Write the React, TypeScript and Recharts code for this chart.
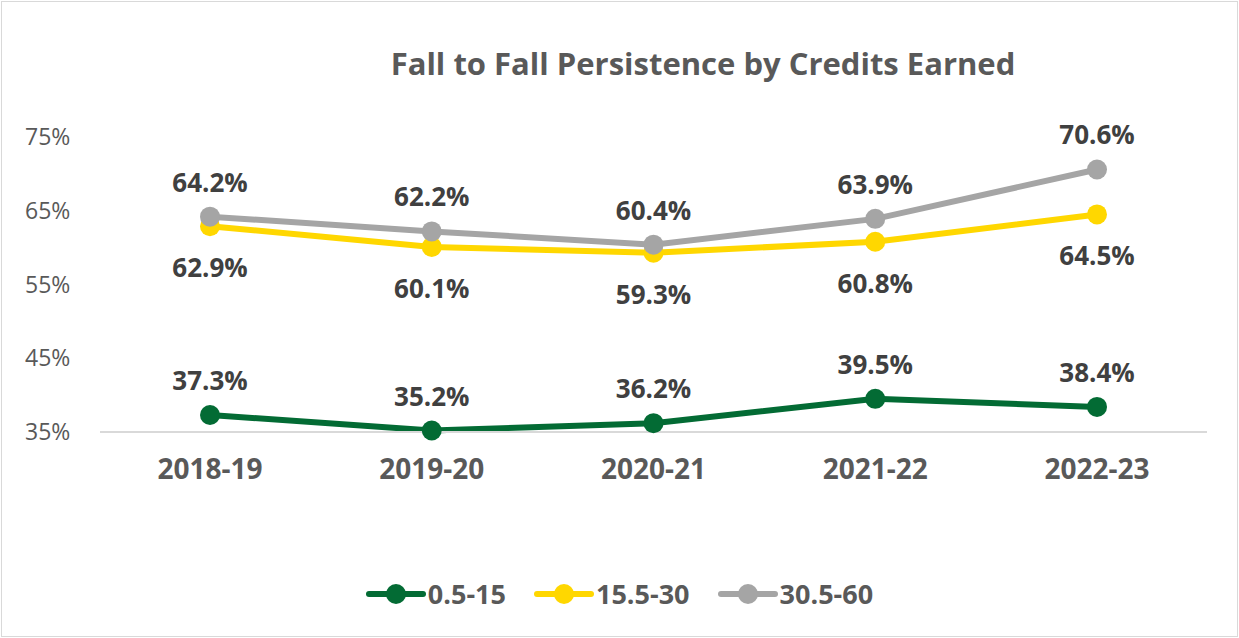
import { LineChart, Line, XAxis, YAxis, Legend, LabelList } from "recharts";

const years = ["2018-19", "2019-20", "2020-21", "2021-22", "2022-23"];
const low = [37.3, 35.2, 36.2, 39.5, 38.4];
const mid = [62.9, 60.1, 59.3, 60.8, 64.5];
const high = [64.2, 62.2, 60.4, 63.9, 70.6];
const yTicks = [35, 45, 55, 65, 75];

const series = [
  { key: "low", name: "0.5-15", color: "#036B34", labelPos: "above" },
  { key: "mid", name: "15.5-30", color: "#FFD700", labelPos: "below" },
  { key: "high", name: "30.5-60", color: "#A5A5A5", labelPos: "above" },
];

const rows = years.map((year, i) => ({ year, low: low[i], mid: mid[i], high: high[i] }));

const FONT = "'Open Sans', sans-serif";

function YTick({ y, payload }: any) {
  return (
    <text x={25} y={y} dy={8} textAnchor="start" fontFamily={FONT} fontSize={23} fill="#595959">
      {payload.value}%
    </text>
  );
}

function XTick({ x, y, payload }: any) {
  return (
    <text x={x} y={y} dy={39} textAnchor="middle" fontFamily={FONT} fontWeight={700} fontSize={28} fill="#595959">
      {payload.value}
    </text>
  );
}

function makeLabel(pos: string) {
  return function PointLabel({ x, y, value }: any) {
    const dy = pos === "above" ? -25 : 51;
    return (
      <text x={x} y={y + dy} textAnchor="middle" fontFamily={FONT} fontWeight={700} fontSize={26} fill="#404040">
        {value.toFixed(1)}%
      </text>
    );
  };
}

function LegendBox() {
  return (
    <div style={{ display: "flex", justifyContent: "center", alignItems: "center", fontFamily: FONT }}>
      {series.map((s) => (
        <div key={s.key} style={{ display: "flex", alignItems: "center", margin: "0 14px" }}>
          <svg width={60} height={24}>
            <line x1={3} y1={12} x2={57} y2={12} stroke={s.color} strokeWidth={6} strokeLinecap="round" />
            <circle cx={30} cy={12} r={10} fill={s.color} />
          </svg>
          <span style={{ fontWeight: 700, fontSize: 27, color: "#595959", marginLeft: 2 }}>{s.name}</span>
        </div>
      ))}
    </div>
  );
}

export default function App() {
  return (
    <div style={{ position: "absolute", left: 0, top: 0, width: 1239, height: 638, background: "#fff" }}>
      <div
        style={{
          position: "absolute",
          left: 1,
          top: 1,
          width: 1235,
          height: 634,
          border: "1px solid #D9D9D9",
        }}
      />
      <div
        style={{
          position: "absolute",
          top: 42,
          left: 200,
          width: 1006,
          textAlign: "center",
          fontFamily: FONT,
          fontWeight: 700,
          fontSize: 31,
          color: "#595959",
        }}
      >
        Fall to Fall Persistence by Credits Earned
      </div>
      <LineChart width={1239} height={638} data={rows} margin={{ top: 137, right: 32, bottom: 146, left: 0 }}>
        <XAxis
          dataKey="year"
          axisLine={{ stroke: "#D9D9D9", strokeWidth: 2 }}
          tickLine={false}
          height={60}
          padding={{ left: 110, right: 110 }}
          tick={<XTick />}
        />
        <YAxis
          width={100}
          domain={[35, 75]}
          ticks={yTicks}
          axisLine={false}
          tickLine={false}
          tick={<YTick />}
        />
        <Legend
          layout="horizontal"
          verticalAlign="middle"
          align="center"
          wrapperStyle={{ top: 575, left: 0, width: 1239 }}
          content={<LegendBox />}
        />
        {series.map((s) => (
          <Line
            key={s.key}
            dataKey={s.key}
            name={s.name}
            stroke={s.color}
            strokeWidth={6}
            dot={{ r: 10, fill: s.color, stroke: s.color, strokeWidth: 0 }}
            isAnimationActive={false}
          >
            <LabelList dataKey={s.key} content={makeLabel(s.labelPos)} />
          </Line>
        ))}
      </LineChart>
    </div>
  );
}
